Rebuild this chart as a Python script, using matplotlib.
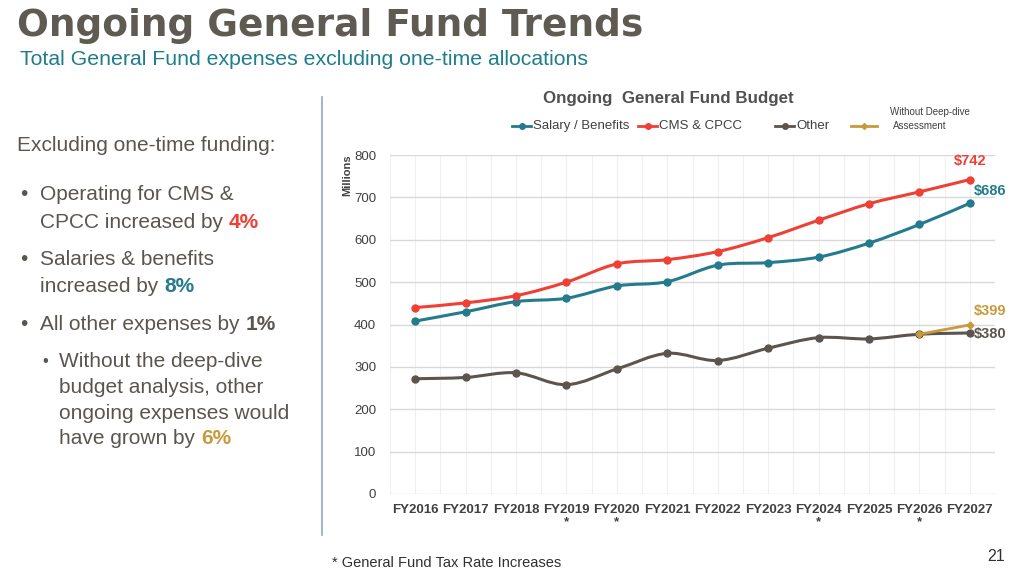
import matplotlib
matplotlib.use("Agg")
import matplotlib.pyplot as plt
from matplotlib.path import Path
from matplotlib.patches import PathPatch
from matplotlib.lines import Line2D
import numpy as np

years = ["FY2016", "FY2017", "FY2018", "FY2019", "FY2020", "FY2021",
         "FY2022", "FY2023", "FY2024", "FY2025", "FY2026", "FY2027"]
salary = [408, 430, 454, 462, 491, 501, 540, 546, 559, 592, 636, 686]
cms = [440, 451, 468, 500, 543, 553, 572, 605, 646, 685, 713, 742]
other = [272, 275, 286, 258, 295, 332, 315, 344, 369, 366, 377, 380]
deep_years = ["FY2026", "FY2027"]
deep = [377, 399]
tax_years = ["FY2019", "FY2020", "FY2024", "FY2026"]
yticks = [0, 100, 200, 300, 400, 500, 600, 700, 800]
legend_labels = ["Salary / Benefits", "CMS & CPCC", "Other"]

C_SAL = "#237B8D"
C_CMS = "#EE4035"
C_OTH = "#5B554E"
C_DEEP = "#C99A3B"
C_TXT = "#5A554F"
C_TITLE = "#5F5A52"
C_SUB = "#1F7D8C"

plt.rcParams['font.family'] = ['Liberation Sans', 'DejaVu Sans']

W, H = 1024, 576
fig = plt.figure(figsize=(W / 100, H / 100), dpi=100)
fig.patch.set_facecolor("white")


def fx(px):
    return px / W


def fy(py):
    return 1 - py / H


# Header
fig.text(fx(17), fy(36), "Ongoing General Fund Trends", fontsize=27, fontweight="heavy",
         color=C_TITLE, family=['DejaVu Sans'], va="baseline", ha="left")
fig.text(fx(20), fy(65), "Total General Fund expenses excluding one-time allocations",
         fontsize=15.3, color=C_SUB, va="baseline", ha="left")

# Left text block
fs = 15
fig.text(fx(17), fy(151), "Excluding one-time funding:", fontsize=fs, color=C_TXT, va="baseline")


def rich_line(x, y, parts, size=fs):
    """Draw consecutive text pieces on one line."""
    renderer = fig.canvas.get_renderer()
    cx = fx(x)
    for txt, col, wt in parts:
        t = fig.text(cx, fy(y), txt, fontsize=size, color=col, fontweight=wt, va="baseline")
        bb = t.get_window_extent(renderer=renderer)
        cx += bb.width / W


bx = 20
tx = 40
fig.text(fx(bx), fy(200), "•", fontsize=fs, color=C_TXT, va="baseline")
rich_line(tx, 200, [("Operating for CMS &", C_TXT, "normal")])
rich_line(tx, 228, [("CPCC increased by ", C_TXT, "normal"), ("4%", C_CMS, "bold")])
fig.text(fx(bx), fy(265), "•", fontsize=fs, color=C_TXT, va="baseline")
rich_line(tx, 265, [("Salaries & benefits", C_TXT, "normal")])
rich_line(tx, 292, [("increased by ", C_TXT, "normal"), ("8%", C_SAL, "bold")])
fig.text(fx(bx), fy(330), "•", fontsize=fs, color=C_TXT, va="baseline")
rich_line(tx, 330, [("All other expenses by ", C_TXT, "normal"), ("1%", C_TXT, "bold")])
fig.text(fx(42), fy(366), "•", fontsize=12, color=C_TXT, va="baseline")
rich_line(59, 367, [("Without the deep-dive", C_TXT, "normal")])
rich_line(59, 393, [("budget analysis, other", C_TXT, "normal")])
rich_line(59, 419, [("ongoing expenses would", C_TXT, "normal")])
rich_line(59, 444, [("have grown by ", C_TXT, "normal"), ("6%", C_DEEP, "bold")])

# Divider line
fig.add_artist(Line2D([fx(322), fx(322)], [fy(97), fy(535)], color="#8FA9C4", lw=1.2))

# Chart axes
ax = fig.add_axes([fx(390), fy(494), (995 - 390) / W, (494 - 155) / H])
ax.set_facecolor("white")
x = np.arange(len(years))
ax.set_xlim(-0.5, len(years) - 0.5)
ax.set_ylim(0, 800)

for v in np.arange(-0.5, len(years), 0.5):
    ax.axvline(v, color="#F0F0F0", lw=0.8, zorder=0)
for v in yticks:
    ax.axhline(v, color="#D9D9D9", lw=1.0, zorder=0.5)

for s in ax.spines.values():
    s.set_visible(False)

ax.set_yticks(yticks)
ax.set_yticklabels([str(v) for v in yticks], fontsize=9.5, color="#404040")
ax.set_xticks(x)
ax.set_xticklabels(years, fontsize=9.5, fontweight="bold", color="#404040")
ax.tick_params(length=0, pad=7)
ax.tick_params(axis="y", pad=10)
ax.text(-0.07, 0.94, "Millions", transform=ax.transAxes, rotation=90, fontsize=8,
        fontweight="bold", color="#404040", ha="center", va="center")


def smooth_path(xs, ys):
    xs = np.asarray(xs, float)
    ys = np.asarray(ys, float)
    pts = np.column_stack([xs, ys])
    n = len(pts)
    verts = [pts[0]]
    codes = [Path.MOVETO]
    for i in range(n - 1):
        p0 = pts[i - 1] if i > 0 else pts[i]
        p1 = pts[i]
        p2 = pts[i + 1]
        p3 = pts[i + 2] if i + 2 < n else pts[i + 1]
        c1 = p1 + (p2 - p0) / 6.0
        c2 = p2 - (p3 - p1) / 6.0
        verts += [c1, c2, p2]
        codes += [Path.CURVE4] * 3
    return Path(verts, codes)


def draw_series(xs, ys, color, z):
    patch = PathPatch(smooth_path(xs, ys), facecolor="none", edgecolor=color, lw=2.2,
                      zorder=z, capstyle="round", joinstyle="round")
    ax.add_patch(patch)
    ax.plot(xs, ys, linestyle="none", marker="o", ms=5, color=color, zorder=z + 0.1)


draw_series(x, other, C_OTH, 3)
dx = [years.index(y) for y in deep_years]
ax.plot(dx, deep, color=C_DEEP, lw=2.0, marker="D", ms=3.5, zorder=3.5)
draw_series(x, salary, C_SAL, 4)
draw_series(x, cms, C_CMS, 5)

# End labels
ax.annotate(f"${cms[-1]}", (x[-1], cms[-1]), xytext=(0, 8), textcoords="offset points",
            ha="center", va="bottom", fontsize=10.5, fontweight="bold", color=C_CMS)
ax.annotate(f"${salary[-1]}", (x[-1], salary[-1]), xytext=(3, 4), textcoords="offset points",
            ha="left", va="bottom", fontsize=10.5, fontweight="bold", color=C_SAL)
ax.annotate(f"${deep[-1]}", (x[-1], deep[-1]), xytext=(3, 5), textcoords="offset points",
            ha="left", va="bottom", fontsize=10.5, fontweight="bold", color=C_DEEP)
ax.annotate(f"${other[-1]}", (x[-1], other[-1]), xytext=(3, -1), textcoords="offset points",
            ha="left", va="center", fontsize=10.5, fontweight="bold", color=C_OTH)

# Tax rate asterisks
for ty in tax_years:
    ax.annotate("*", (years.index(ty), 0), xycoords=ax.get_xaxis_transform(),
                xytext=(0, -22), textcoords="offset pixels", ha="center", va="top",
                fontsize=9.5, fontweight="bold", color="#404040")

# Chart title and manual legend
fig.text(fx(668), fy(98), "Ongoing  General Fund Budget", ha="center", va="center",
         fontsize=12.2, fontweight="bold", color="#505050")
leg_colors = [C_SAL, C_CMS, C_OTH]
leg_x = [512, 638, 775]
for lx, col, lab in zip(leg_x, leg_colors, legend_labels):
    fig.add_artist(Line2D([fx(lx), fx(lx + 19)], [fy(126), fy(126)], color=col, lw=2))
    fig.add_artist(Line2D([fx(lx + 9.5)], [fy(126)], color=col, marker="o", ms=4, ls="none"))
    fig.text(fx(lx + 21), fy(126), lab, fontsize=9.5, color="#404040", va="center", ha="left")
fig.add_artist(Line2D([fx(851), fx(877)], [fy(126), fy(126)], color=C_DEEP, lw=2))
fig.add_artist(Line2D([fx(864)], [fy(126)], color=C_DEEP, marker="D", ms=3, ls="none"))
fig.text(fx(890), fy(112), "Without Deep-dive", fontsize=7, color="#404040", va="center")
fig.text(fx(893), fy(126), "Assessment", fontsize=7, color="#404040", va="center")

# Footnote and page number
fig.text(fx(332), fy(567), "* General Fund Tax Rate Increases", fontsize=10.5, color="#303030",
         va="baseline")
fig.text(fx(1005), fy(561), "21", fontsize=11.5, color="#303030", va="baseline", ha="right")

fig.savefig("out.png", dpi=100, facecolor="white")
